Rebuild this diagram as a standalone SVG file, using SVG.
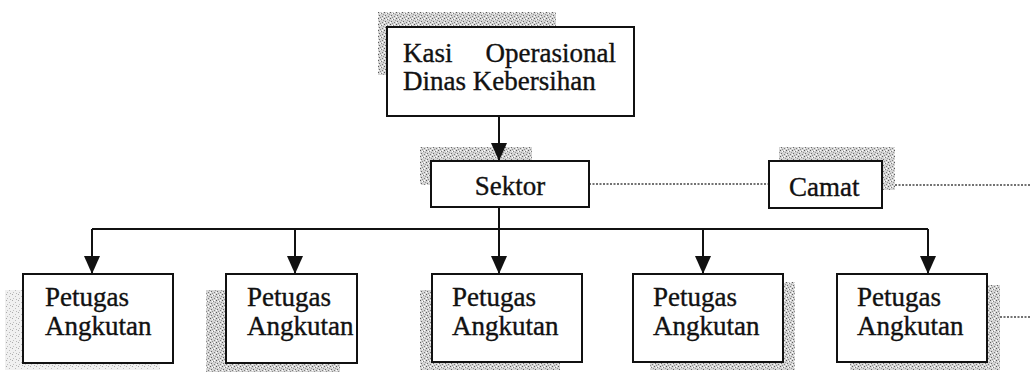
<svg xmlns="http://www.w3.org/2000/svg" width="1030" height="374" viewBox="0 0 1030 374">
  <defs>
    <style>
      .box { fill: #ffffff; stroke: #111111; stroke-width: 2; }
      .lbl { font-size: 27px; fill: #111111; stroke: #111111; stroke-width: 0.35; }
      .conn { stroke: #111111; stroke-width: 2; fill: none; }
      .dot { stroke: #444444; stroke-width: 1.3; stroke-dasharray: 2 1.5; fill: none; }
      .shd { fill: url(#speckle); }
      .shdl { fill: url(#speckleLight); }
    </style>
    <pattern id="speckle" width="6" height="6" patternUnits="userSpaceOnUse">
      <rect width="6" height="6" fill="#d4d4d4"/>
      <rect x="0" y="0" width="1" height="1" fill="#5a5a5a"/>
      <rect x="3" y="1" width="1" height="1" fill="#808080"/>
      <rect x="1" y="3" width="1" height="1" fill="#6a6a6a"/>
      <rect x="4" y="4" width="1" height="1" fill="#7a7a7a"/>
      <rect x="5" y="2" width="1" height="1" fill="#999999"/>
      <rect x="2" y="5" width="1" height="1" fill="#909090"/>
      <rect x="2" y="1" width="1" height="1" fill="#ffffff"/>
      <rect x="4" y="0" width="1" height="1" fill="#ffffff"/>
      <rect x="0" y="4" width="1" height="1" fill="#ffffff"/>
    </pattern>
    <pattern id="speckleLight" width="6" height="6" patternUnits="userSpaceOnUse">
      <rect width="6" height="6" fill="#f0f0f0"/>
      <rect x="0" y="0" width="1" height="1" fill="#aaaaaa"/>
      <rect x="3" y="2" width="1" height="1" fill="#bbbbbb"/>
      <rect x="1" y="4" width="1" height="1" fill="#c0c0c0"/>
      <rect x="4" y="5" width="1" height="1" fill="#b5b5b5"/>
    </pattern>
    <marker id="arrow" markerWidth="18" markerHeight="16" refX="18" refY="8" orient="auto" markerUnits="userSpaceOnUse">
      <path d="M0,0 L18,8 L0,16 Z" fill="#111111"/>
    </marker>
  </defs>

  <!-- scan shadows -->
  <g id="shadows">
    <rect class="shd" x="378" y="12" width="178" height="15"/>
    <rect class="shd" x="378" y="12" width="9" height="63"/>
    <rect class="shd" x="420" y="147" width="112" height="14"/>
    <rect class="shd" x="420" y="147" width="11" height="38"/>
    <rect class="shd" x="779" y="147" width="116" height="14"/>
    <rect class="shd" x="882" y="147" width="13" height="43"/>
    <rect class="shdl" x="5" y="290" width="18" height="80"/>
    <rect class="shdl" x="5" y="363" width="155" height="7"/>
    <rect class="shd" x="206" y="290" width="20" height="82"/>
    <rect class="shd" x="206" y="363" width="134" height="9"/>
    <rect class="shd" x="420" y="290" width="12" height="80"/>
    <rect class="shd" x="420" y="362" width="140" height="8"/>
    <rect class="shd" x="783" y="282" width="12" height="88"/>
    <rect class="shd" x="650" y="362" width="145" height="8"/>
    <rect class="shd" x="987" y="285" width="13" height="85"/>
    <rect class="shd" x="850" y="362" width="150" height="8"/>
  </g>

  <g id="connectors">
    <line class="conn" x1="499" y1="116" x2="499" y2="161" marker-end="url(#arrow)"/>
    <line class="conn" x1="499" y1="207" x2="499" y2="229"/>
    <line class="conn" x1="92" y1="229" x2="928" y2="229"/>
    <line class="conn" x1="92" y1="229" x2="92" y2="274" marker-end="url(#arrow)"/>
    <line class="conn" x1="295" y1="229" x2="295" y2="274" marker-end="url(#arrow)"/>
    <line class="conn" x1="499" y1="229" x2="499" y2="274" marker-end="url(#arrow)"/>
    <line class="conn" x1="703" y1="229" x2="703" y2="274" marker-end="url(#arrow)"/>
    <line class="conn" x1="928" y1="229" x2="928" y2="274" marker-end="url(#arrow)"/>
    <line class="dot" x1="589" y1="184" x2="769" y2="184"/>
    <line class="dot" x1="895" y1="185" x2="1030" y2="185"/>
    <line class="dot" x1="1000" y1="317" x2="1030" y2="317"/>
  </g>

  <g font-family="Liberation Serif, DejaVu Serif, serif">
  <g id="kasi">
    <rect class="box" x="387" y="27" width="247" height="89"/>
    <text class="lbl" x="403" y="62">Kasi</text>
    <text class="lbl" x="616" y="62" text-anchor="end">Operasional</text>
    <text class="lbl" x="403" y="90">Dinas Kebersihan</text>
  </g>

  <g id="sektor">
    <rect class="box" x="431" y="161" width="158" height="46"/>
    <text class="lbl" x="510" y="195" text-anchor="middle">Sektor</text>
  </g>

  <g id="camat">
    <rect class="box" x="769" y="161" width="113" height="47"/>
    <text class="lbl" x="789" y="196">Camat</text>
  </g>

  <g id="petugas1">
    <rect class="box" x="23" y="274" width="150" height="89"/>
    <text class="lbl" x="45" y="306">Petugas</text>
    <text class="lbl" x="45" y="335">Angkutan</text>
  </g>
  <g id="petugas2">
    <rect class="box" x="226" y="274" width="131" height="89"/>
    <text class="lbl" x="247" y="306">Petugas</text>
    <text class="lbl" x="247" y="335">Angkutan</text>
  </g>
  <g id="petugas3">
    <rect class="box" x="432" y="274" width="150" height="88"/>
    <text class="lbl" x="452" y="306">Petugas</text>
    <text class="lbl" x="452" y="335">Angkutan</text>
  </g>
  <g id="petugas4">
    <rect class="box" x="633" y="274" width="150" height="88"/>
    <text class="lbl" x="653" y="306">Petugas</text>
    <text class="lbl" x="653" y="335">Angkutan</text>
  </g>
  <g id="petugas5">
    <rect class="box" x="837" y="274" width="150" height="88"/>
    <text class="lbl" x="857" y="306">Petugas</text>
    <text class="lbl" x="857" y="335">Angkutan</text>
  </g>
  </g>
</svg>
